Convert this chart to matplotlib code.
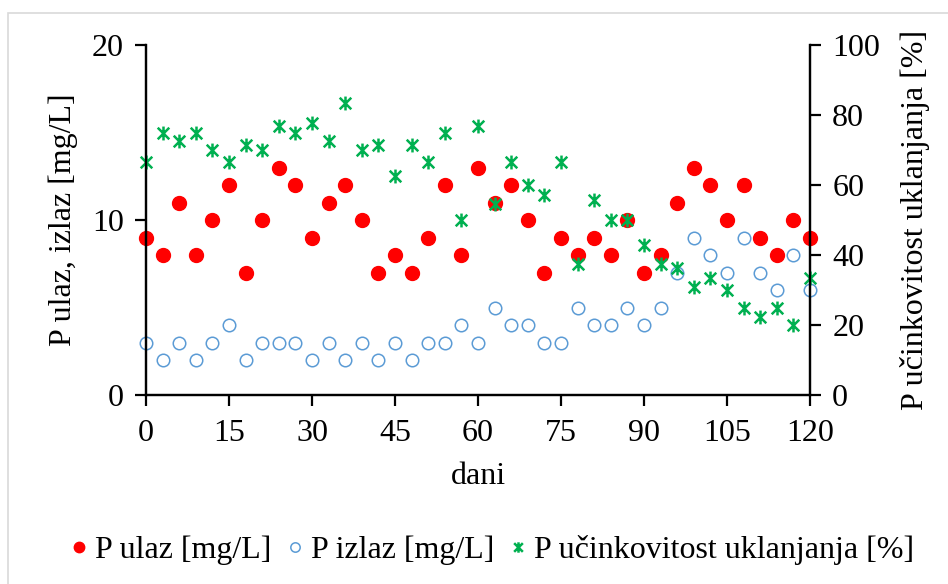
import matplotlib.pyplot as plt
from matplotlib.path import Path
from matplotlib.patches import Rectangle

plt.rcParams["font.family"] = ["Liberation Serif", "DejaVu Serif"]

# days of measurement
dani = [0, 3, 6, 9, 12, 15, 18, 21, 24, 27, 30, 33, 36, 39, 42, 45, 48, 51, 54, 57,
        60, 63, 66, 69, 72, 75, 78, 81, 84, 87, 90, 93, 96, 99, 102, 105, 108, 111,
        114, 117, 120]

# P inflow [mg/L]
p_ulaz = [9, 8, 11, 8, 10, 12, 7, 10, 13, 12, 9, 11, 12, 10, 7, 8, 7, 9, 12, 8,
          13, 11, 12, 10, 7, 9, 8, 9, 8, 10, 7, 8, 11, 13, 12, 10, 12, 9, 8, 10, 9]

# P outflow [mg/L]
p_izlaz = [3, 2, 3, 2, 3, 4, 2, 3, 3, 3, 2, 3, 2, 3, 2, 3, 2, 3, 3, 4,
           3, 5, 4, 4, 3, 3, 5, 4, 4, 5, 4, 5, 7, 9, 8, 7, 9, 7, 6, 8, 6]

# removal efficiency [%]
p_ucinkovitost = [66.7, 75.0, 72.7, 75.0, 70.0, 66.7, 71.4, 70.0, 76.9, 75.0, 77.8,
                  72.7, 83.3, 70.0, 71.4, 62.5, 71.4, 66.7, 75.0, 50.0, 76.9, 54.5,
                  66.7, 60.0, 57.1, 66.7, 37.5, 55.6, 50.0, 50.0, 42.9, 37.5, 36.4,
                  30.8, 33.3, 30.0, 25.0, 22.2, 25.0, 20.0, 33.3]

# Excel-like star marker (x with vertical bar)
star = Path(
    [(-1, -1), (1, 1), (-1, 1), (1, -1), (0, -1.2), (0, 1.2)],
    [Path.MOVETO, Path.LINETO, Path.MOVETO, Path.LINETO, Path.MOVETO, Path.LINETO],
)

fs = 23

fig = plt.figure(figsize=(9.48, 5.84), dpi=100)
fig.subplots_adjust(left=146 / 948, right=810 / 948, top=1 - 45 / 584, bottom=1 - 395 / 584)
ax = fig.add_subplot(111)
ax2 = ax.twinx()

# chart border
fig.patches.append(Rectangle((8 / 948, -0.01), 1.0, 1 - 13 / 584 + 0.01,
                             transform=fig.transFigure, fill=False,
                             edgecolor="#d9d9d9", linewidth=1.2))

l1, = ax.plot(dani, p_ulaz, linestyle="none", marker="o", markersize=10,
              color="#ff0000", clip_on=False, label="P ulaz [mg/L]")
l2, = ax.plot(dani, p_izlaz, linestyle="none", marker="o", markersize=9,
              markerfacecolor="none", markeredgecolor="#5b9bd5", markeredgewidth=1.1,
              clip_on=False, label="P izlaz [mg/L]")
l3, = ax2.plot(dani, p_ucinkovitost, linestyle="none", marker=star, markersize=10,
               markerfacecolor="none", markeredgecolor="#00b050", markeredgewidth=1.8,
               clip_on=False, label="P učinkovitost uklanjanja [%]")

ax.set_xlim(0, 120)
ax.set_ylim(0, 20)
ax2.set_ylim(0, 100)
ax.set_xticks(range(0, 121, 15))
ax.set_yticks([0, 10, 20])
ax2.set_yticks(range(0, 101, 20))

for a in (ax, ax2):
    a.spines["top"].set_visible(False)
    for s in a.spines.values():
        s.set_linewidth(1.6)
    a.tick_params(labelsize=fs, width=1.6, length=8, direction="out", pad=8)
ax.tick_params(axis="x", pad=9)

ax.set_xlabel("dani", fontsize=fs, labelpad=10)
ax.set_ylabel("P ulaz, izlaz [mg/L]", fontsize=fs, labelpad=10)
ax2.set_ylabel("P učinkovitost uklanjanja [%]", fontsize=fs, labelpad=14)

fig.legend(handles=[l1, l2, l3], loc="center", bbox_to_anchor=(491 / 948, 1 - 550 / 584),
           ncol=3, frameon=False, fontsize=fs, handletextpad=0.15, columnspacing=0.4,
           handlelength=0.7, markerscale=0.75)

fig.savefig("out.png", dpi=100)
